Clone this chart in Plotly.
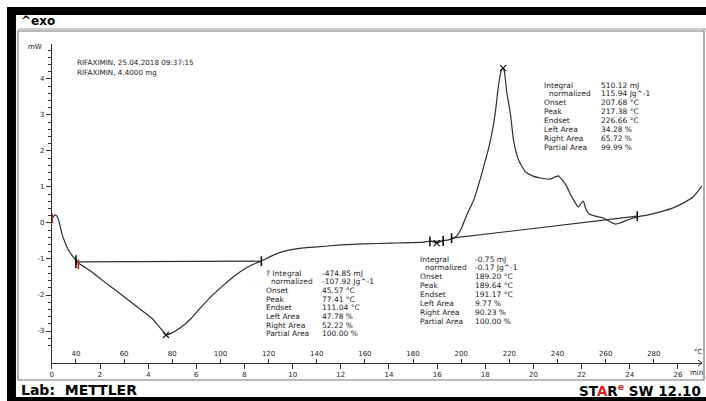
import plotly.graph_objects as go

W, H = 706, 401


def px(x):
    return x / W


def py(y):
    return 1 - y / H


# DSC heating run, 10 K/min: time (min) and heat flow (mW, exo up)
time_min = [0.00, 0.08, 0.14, 0.21, 0.29, 0.41, 0.54, 0.66, 0.83, 0.99, 1.16, 1.66, 2.07,
            2.69, 3.44, 4.14, 4.47, 4.64, 4.76, 4.97, 5.38, 5.80, 6.21, 6.63, 7.04, 7.58,
            8.07, 8.49, 8.70, 9.11, 9.52, 10.14, 10.89, 12.01, 12.96, 14.08, 15.45, 15.73,
            15.98, 16.19, 16.48, 16.77, 16.98, 17.23, 17.52, 17.72, 17.93, 18.14, 18.30,
            18.43, 18.55, 18.67, 18.74, 18.80, 18.88, 19.05, 19.17, 19.38, 19.67, 19.96,
            20.29, 20.70, 20.91, 21.04, 21.20, 21.37, 21.57, 21.74, 21.86, 21.99, 22.07,
            22.19, 22.32, 22.57, 22.90, 23.19, 23.40, 23.60, 23.81, 24.02, 24.31, 24.72,
            25.26, 25.80, 26.29, 26.63, 27.00]
heat_flow_mw = [0.11, 0.19, 0.22, 0.19, 0.06, -0.28, -0.53, -0.72, -0.89, -1.03, -1.14, -1.36,
                -1.58, -1.89, -2.28, -2.64, -2.89, -3.03, -3.11, -3.06, -2.89, -2.64, -2.33,
                -2.03, -1.78, -1.47, -1.25, -1.11, -1.06, -0.92, -0.81, -0.72, -0.67, -0.61,
                -0.58, -0.56, -0.53, -0.50, -0.56, -0.50, -0.47, -0.39, -0.19, 0.22, 0.64,
                1.06, 1.56, 2.08, 2.58, 3.14, 3.83, 4.24, 4.30, 4.18, 3.69, 3.00, 2.31, 1.75,
                1.42, 1.31, 1.25, 1.22, 1.28, 1.31, 1.19, 1.03, 0.75, 0.56, 0.44, 0.56, 0.61,
                0.36, 0.25, 0.19, 0.14, 0.03, -0.03, 0.00, 0.06, 0.11, 0.17, 0.22, 0.31, 0.42,
                0.58, 0.72, 1.03]

# integration baselines (time, heat flow)
base1_t = [1.00, 8.70]
base1_v = [-1.08, -1.06]
base2_t = [15.70, 16.25]
base2_v = [-0.51, -0.50]
base3_t = [16.60, 24.31]
base3_v = [-0.42, 0.19]

# integration limits and peak positions
limit_t = [1.00, 1.00, 8.70, 15.70, 16.25, 16.60, 24.31]
limit_v = [-1.03, -1.12, -1.06, -0.51, -0.50, -0.42, 0.19]
start_t = [0.02, 1.10]
start_v = [0.13, -1.15]
peak_t = [4.74, 15.98, 18.74]
peak_v = [-3.11, -0.56, 4.30]

# axis ticks
time_ticks = list(range(0, 27, 2))
temp_ticks = list(range(40, 281, 20))
mw_ticks = [-3, -2, -1, 0, 1, 2, 3, 4]

# evaluation tables
table_labels = ["? Integral", "normalized", "Onset", "Peak", "Endset",
                "Left Area", "Right Area", "Partial Area"]
table1_values = ["-474.85 mJ", "-107.92 Jg^-1", "45.57 °C", "77.41 °C", "111.04 °C",
                 "47.78 %", "52.22 %", "100.00 %"]
table2_values = ["-0.75 mJ", "-0.17 Jg^-1", "189.20 °C", "189.64 °C", "191.17 °C",
                 "9.77 %", "90.23 %", "100.00 %"]
table3_values = ["510.12 mJ", "115.94 Jg^-1", "207.68 °C", "217.38 °C", "226.66 °C",
                 "34.28 %", "65.72 %", "99.99 %"]

INK = "#2e2e2e"
FONT = "DejaVu Sans"

fig = go.Figure()

for bt, bv in [(base1_t, base1_v), (base2_t, base2_v), (base3_t, base3_v)]:
    fig.add_trace(go.Scatter(x=bt, y=bv, mode="lines", line=dict(color=INK, width=1.1),
                             hoverinfo="skip", showlegend=False))

fig.add_trace(go.Scatter(x=time_min, y=heat_flow_mw, mode="lines",
                         line=dict(color=INK, width=1.2, shape="spline", smoothing=0.5),
                         showlegend=False))

fig.add_trace(go.Scatter(x=limit_t, y=limit_v, mode="markers",
                         marker=dict(symbol="line-ns-open", size=7, color="#111",
                                     line=dict(color="#111", width=1.6)),
                         showlegend=False))
fig.add_trace(go.Scatter(x=start_t, y=start_v, mode="markers",
                         marker=dict(symbol="line-ns-open", size=7, color="#d02020",
                                     line=dict(color="#d02020", width=1.6)),
                         showlegend=False))
fig.add_trace(go.Scatter(x=peak_t, y=peak_v, mode="markers",
                         marker=dict(symbol="x-thin-open", size=6, color="#111",
                                     line=dict(color="#111", width=1.2)),
                         showlegend=False))

# temperature scale (30 °C at t = 0, 10 K/min) shares the time axis line
fig.add_trace(go.Scatter(x=temp_ticks, y=[0] * len(temp_ticks), xaxis="x2", yaxis="y",
                         mode="markers", marker=dict(opacity=0), hoverinfo="skip",
                         showlegend=False))

annotations = []


def text(x, y, s, size=7.5, color="#222"):
    annotations.append(dict(x=px(x), y=py(y), xref="paper", yref="paper", text=s,
                            showarrow=False, xanchor="left", yanchor="middle",
                            font=dict(family=FONT, size=size, color=color)))


def table(x_lab, x_val, y0, dy, values, first_label):
    for i, (lab, val) in enumerate(zip(table_labels, values)):
        if i == 0:
            lab = first_label
        indent = 5 if lab == "normalized" else 0
        text(x_lab + indent, y0 + i * dy, lab)
        text(x_val, y0 + i * dy, val)


table(263, 319, 273, 8.7, table1_values, "? Integral")
table(417, 472, 259, 8.86, table2_values, "Integral")
table(542, 599, 85, 8.9, table3_values, "Integral")

text(73, 63, "RIFAXIMIN, 25.04.2018 09:37:15", size=7.2)
text(73, 72, "RIFAXIMIN, 4.4000 mg", size=7.2)
text(24, 47, "mW", size=7)
text(688, 373, "min", size=7)
text(692, 352, "°C", size=7)

text(17, 21, "<b>^exo</b>", size=12, color="#000")
text(17, 390, "<b>Lab:  METTLER</b>", size=14, color="#000")
text(577, 390, "<b>ST<span style='color:#e02020'>A</span>R"
     "<sup><span style='color:#e02020'>e</span></sup> SW 12.10</b>", size=13.5,
     color="#000")

shapes = [
    # frame of the plot panel
    dict(type="rect", xref="paper", yref="paper", x0=px(16), x1=px(704), y0=py(380),
         y1=py(31), line=dict(color="#777", width=1.2)),
    dict(type="line", xref="paper", yref="paper", x0=px(16), x1=px(706), y0=py(29),
         y1=py(29), line=dict(color="#999", width=1)),
    # small arrow at the end of the time axis
    dict(type="path", xref="paper", yref="paper",
         path=f"M {px(698)} {py(360)} L {px(702)} {py(363)} L {px(698)} {py(366)}",
         line=dict(color=INK, width=1)),
    # black window border
    dict(type="rect", xref="paper", yref="paper", x0=px(5), x1=px(706), y0=py(15),
         y1=py(7), fillcolor="#000", line=dict(width=0)),
    dict(type="rect", xref="paper", yref="paper", x0=px(5), x1=px(14), y0=py(401),
         y1=py(7), fillcolor="#000", line=dict(width=0)),
    dict(type="rect", xref="paper", yref="paper", x0=px(5), x1=px(706), y0=py(401),
         y1=py(397), fillcolor="#000", line=dict(width=0)),
]

tick_font = dict(family=FONT, size=7, color="#222")

fig.update_layout(
    width=W, height=H,
    margin=dict(l=0, r=0, t=0, b=0),
    paper_bgcolor="white", plot_bgcolor="white",
    showlegend=False,
    annotations=annotations,
    shapes=shapes,
    xaxis=dict(range=[0, 27.0], domain=[px(50), px(702)], anchor="y",
               showline=True, linecolor=INK, linewidth=1,
               ticks="outside", ticklen=5, tickcolor=INK, tickwidth=1,
               tickvals=time_ticks, ticktext=[str(t) for t in time_ticks],
               tickfont=tick_font, showgrid=False, zeroline=False),
    xaxis2=dict(range=[30, 300], domain=[px(50), px(702)], anchor="y",
                overlaying="x", side="bottom", showline=False,
                ticks="inside", ticklen=4, tickcolor=INK, tickwidth=1,
                ticklabelposition="inside",
                tickvals=temp_ticks, ticktext=[str(t) for t in temp_ticks],
                tickfont=tick_font, showgrid=False, zeroline=False),
    yaxis=dict(range=[-3.889, 4.972], domain=[py(363), py(44)], anchor="x",
               showline=True, linecolor=INK, linewidth=1,
               ticks="outside", ticklen=5, tickcolor=INK, tickwidth=1,
               tickvals=mw_ticks, ticktext=[str(v) for v in mw_ticks],
               minor=dict(dtick=0.2, tick0=0, ticks="outside", ticklen=3,
                          tickcolor=INK, tickwidth=1),
               tickfont=tick_font, showgrid=False, zeroline=False),
)

fig.write_html("out.html")
